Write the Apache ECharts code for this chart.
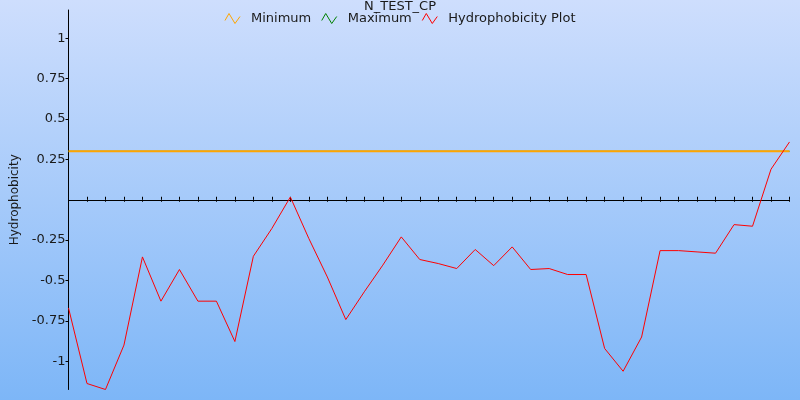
<!DOCTYPE html>
<html>
<head>
<meta charset="utf-8">
<script src="https://cdn.jsdelivr.net/npm/echarts@6/dist/echarts.min.js"></script>
<style>html,body{margin:0;padding:0;}#c{width:800px;height:400px;}</style>
</head>
<body>
<div id="c"></div>
<script>
const titleText = 'N_TEST_CP';
const positions = Array.from({length: 40}, (_, i) => String(i + 1));
const hydrophobicity = [-0.67, -1.138, -1.175, -0.90, -0.354, -0.628, -0.432, -0.628, -0.628, -0.878,
  -0.35, -0.178, 0.017, -0.24, -0.478, -0.742, -0.57, -0.405, -0.23, -0.37,
  -0.395, -0.426, -0.308, -0.408, -0.292, -0.432, -0.426, -0.463, -0.463, -0.921,
  -1.062, -0.85, -0.315, -0.315, -0.323, -0.331, -0.154, -0.164, 0.189, 0.358];
const minimumValue = 0.3;
const maximumValue = 0.3;
const minimumLine = positions.map(() => minimumValue);
const maximumLine = positions.map(() => maximumValue);
const yTickValues = [-1, -0.75, -0.5, -0.25, 0.25, 0.5, 0.75, 1];

const font = 'DejaVu Sans';
const icon = 'path://M0,7 L4,0 L10,10 L15,3';
const yMin = -1.175, yMax = 1.175;
const chart = echarts.init(document.getElementById('c'));
chart.setOption({
  animation: false,
  backgroundColor: new echarts.graphic.LinearGradient(0, 0, 0, 1, [
    {offset: 0, color: '#cedefd'},
    {offset: 1, color: '#7db6f7'}
  ]),
  title: {
    text: titleText, left: 'center', top: -5,
    textStyle: {fontFamily: font, fontSize: 13, fontWeight: 'normal', color: '#1a1a1a'}
  },
  legend: {
    top: 7, left: 'center', itemWidth: 15, itemHeight: 10, itemGap: 10,
    textStyle: {fontFamily: font, fontSize: 13, color: '#1a1a1a', padding: [0, 0, 0, 6]},
    data: [
      {name: 'Minimum', icon: icon, itemStyle: {color: 'transparent', borderColor: '#ffa500', borderWidth: 1}},
      {name: 'Maximum', icon: icon, itemStyle: {color: 'transparent', borderColor: '#008000', borderWidth: 1}},
      {name: 'Hydrophobicity Plot', icon: icon, itemStyle: {color: 'transparent', borderColor: '#ff0000', borderWidth: 1}}
    ]
  },
  grid: {left: 68.5, right: 10.5, top: 10, bottom: 10.5, outerBoundsMode: 'none'},
  xAxis: [{
    type: 'category', data: positions, boundaryGap: false,
    axisLine: {onZero: true, onZeroAxisIndex: 0, lineStyle: {color: '#000', width: 1}},
    axisTick: {show: true, inside: true, length: 3, lineStyle: {color: '#000'}},
    axisLabel: {show: false}, splitLine: {show: false}
  }, {
    type: 'category', data: positions, boundaryGap: false, position: 'bottom',
    axisLine: {onZero: true, onZeroAxisIndex: 1, lineStyle: {color: '#000', width: 1}},
    axisTick: {show: true, inside: false, length: 2, lineStyle: {color: '#000'}},
    axisLabel: {show: false}, splitLine: {show: false}
  }],
  yAxis: [{
    type: 'value', min: yMin, max: yMax,
    name: 'Hydrophobicity', nameLocation: 'middle', nameGap: 46,
    nameTextStyle: {fontFamily: font, fontSize: 12, color: '#1a1a1a'},
    axisLine: {show: true, onZero: false, lineStyle: {color: '#000', width: 1}},
    axisTick: {show: true, length: 3, customValues: yTickValues, lineStyle: {color: '#000'}},
    axisLabel: {customValues: yTickValues, fontFamily: font, fontSize: 13, color: '#1a1a1a', margin: 3,
      formatter: v => String(v)},
    splitLine: {show: false}
  }, {
    type: 'value', min: yMin, max: yMax, show: false, position: 'left',
    axisLine: {onZero: false}, splitLine: {show: false}
  }],
  series: [
    {name: 'Maximum', type: 'line', data: maximumLine, showSymbol: false, symbol: 'none',
      lineStyle: {color: '#008000', width: 1}, itemStyle: {color: '#008000'}, z: 2},
    {name: 'Minimum', type: 'line', data: minimumLine, showSymbol: false, symbol: 'none',
      lineStyle: {color: '#ffa500', width: 2}, itemStyle: {color: '#ffa500'}, z: 3},
    {name: 'Hydrophobicity Plot', type: 'line', data: hydrophobicity, showSymbol: false, symbol: 'none',
      lineStyle: {color: '#ff0000', width: 1}, itemStyle: {color: '#ff0000'}, z: 4}
  ]
});
</script>
</body>
</html>
